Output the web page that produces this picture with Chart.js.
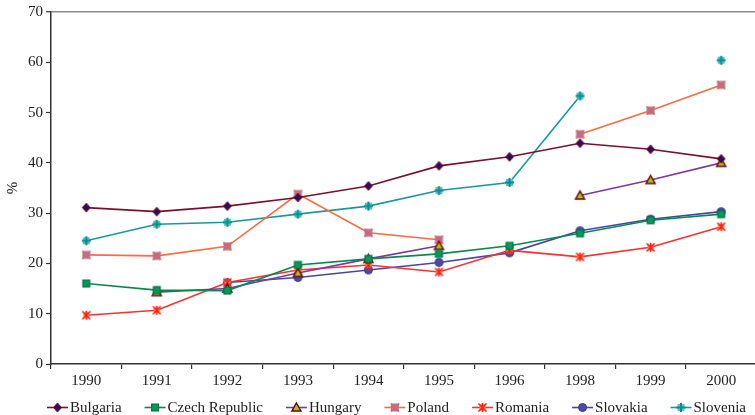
<!DOCTYPE html>
<html>
<head>
<meta charset="utf-8">
<script src="https://cdn.jsdelivr.net/npm/chart.js@4/dist/chart.umd.min.js"></script>
<style>
  html, body { margin: 0; padding: 0; background: #fff; overflow: hidden; }
  #wrap { position: absolute; left: 0; top: 0; width: 762px; height: 415px; }
</style>
</head>
<body>
<div id="wrap"><canvas id="chart"></canvas></div>
<script>
// Categories (survey years) and the share, in %, for each country
const years = ['1990', '1991', '1992', '1993', '1994', '1995', '1996', '1998', '1999', '2000'];

const bulgaria = [31.1, 30.3, 31.4, 33.1, 35.4, 39.4, 41.2, 43.9, 42.7, 40.8];
const czechRepublic = [16.0, 14.7, 14.6, 19.7, 20.9, 21.9, 23.5, 26.0, 28.6, 29.8];
const hungary = [null, 14.3, 15.0, 18.1, 20.9, 23.5, null, 33.5, 36.6, 40.0];
const poland = [21.7, 21.5, 23.4, 33.8, 26.1, 24.7, null, 45.7, 50.4, 55.5];
const romania = [9.7, 10.7, 16.2, 18.7, 19.7, 18.3, 22.6, 21.3, 23.2, 27.3];
const slovakia = [null, null, 16.2, 17.2, 18.7, 20.2, 22.1, 26.5, 28.8, 30.3];
const slovenia = [24.5, 27.8, 28.2, 29.8, 31.4, 34.5, 36.1, 53.3, null, 60.4];

const seriesNames = ['Bulgaria', 'Czech Republic', 'Hungary', 'Poland', 'Romania', 'Slovakia', 'Slovenia'];

// Value axis range
const yMin = 0;
const yMax = 70;
const yStep = 10;

const FONT = '"Liberation Serif", "Times New Roman", serif';

// ---- marker shapes -------------------------------------------------------
const markerDrawers = {
  diamond(ctx, x, y) {
    ctx.beginPath();
    ctx.moveTo(x, y - 4.5); ctx.lineTo(x + 4, y); ctx.lineTo(x, y + 4.5); ctx.lineTo(x - 4, y);
    ctx.closePath();
    ctx.fillStyle = '#2e0e50'; ctx.fill();
    ctx.strokeStyle = '#7a0a2e'; ctx.lineWidth = 1; ctx.stroke();
  },
  square(ctx, x, y) {
    ctx.fillStyle = '#009a5a'; ctx.fillRect(x - 3.5, y - 3.5, 7, 7);
    ctx.strokeStyle = '#006b3c'; ctx.lineWidth = 1; ctx.strokeRect(x - 3.5, y - 3.5, 7, 7);
  },
  triangle(ctx, x, y) {
    ctx.beginPath();
    ctx.moveTo(x, y - 4.5); ctx.lineTo(x + 4.5, y + 3.5); ctx.lineTo(x - 4.5, y + 3.5);
    ctx.closePath();
    ctx.fillStyle = '#9dc828'; ctx.fill();
    ctx.strokeStyle = '#7a0000'; ctx.lineWidth = 1.5; ctx.stroke();
  },
  xsquare(ctx, x, y) {
    ctx.fillStyle = '#8f80c4'; ctx.fillRect(x - 4, y - 4, 8, 8);
    ctx.strokeStyle = '#ff5a36'; ctx.lineWidth = 1.6;
    ctx.beginPath();
    ctx.moveTo(x - 4, y - 4); ctx.lineTo(x + 4, y + 4);
    ctx.moveTo(x + 4, y - 4); ctx.lineTo(x - 4, y + 4);
    ctx.stroke();
  },
  asterisk(ctx, x, y) {
    ctx.fillStyle = '#ff8a2a'; ctx.fillRect(x - 3, y - 3, 6, 6);
    ctx.strokeStyle = '#ff1e1e'; ctx.lineWidth = 1.5;
    ctx.beginPath();
    ctx.moveTo(x - 4, y - 4); ctx.lineTo(x + 4, y + 4);
    ctx.moveTo(x + 4, y - 4); ctx.lineTo(x - 4, y + 4);
    ctx.moveTo(x, y - 4.5); ctx.lineTo(x, y + 4.5);
    ctx.stroke();
  },
  circle(ctx, x, y) {
    ctx.beginPath(); ctx.arc(x, y, 4, 0, Math.PI * 2);
    ctx.fillStyle = '#4a4aa8'; ctx.fill();
    ctx.strokeStyle = '#383892'; ctx.lineWidth = 1; ctx.stroke();
  },
  plus(ctx, x, y) {
    ctx.fillStyle = '#52c6c6'; ctx.fillRect(x - 3.5, y - 3.5, 7, 7);
    ctx.strokeStyle = '#0d8a8a'; ctx.lineWidth = 2;
    ctx.beginPath();
    ctx.moveTo(x - 4.5, y); ctx.lineTo(x + 4.5, y);
    ctx.moveTo(x, y - 4.5); ctx.lineTo(x, y + 4.5);
    ctx.stroke();
  }
};

function markerImage(kind) {
  const c = document.createElement('canvas');
  c.width = 13; c.height = 13;
  markerDrawers[kind](c.getContext('2d'), 6.5, 6.5);
  return c;
}

const seriesStyles = [
  { color: '#7a0f2e', marker: 'diamond' },
  { color: '#0a8a4a', marker: 'square' },
  { color: '#7a3aa0', marker: 'triangle' },
  { color: '#ff6a40', marker: 'xsquare' },
  { color: '#ff3030', marker: 'asterisk' },
  { color: '#4646a6', marker: 'circle' },
  { color: '#189a9a', marker: 'plus' }
];

const seriesData = [bulgaria, czechRepublic, hungary, poland, romania, slovakia, slovenia];

const datasets = seriesNames.map((name, i) => ({
  label: name,
  data: seriesData[i],
  borderColor: seriesStyles[i].color,
  backgroundColor: seriesStyles[i].color,
  borderWidth: 1.6,
  tension: 0,
  spanGaps: false,
  pointStyle: markerImage(seriesStyles[i].marker),
  pointRadius: 4,
  pointHoverRadius: 4,
  markerKind: seriesStyles[i].marker
}));

// Legend row along the bottom: short line with the marker, then the name
const seriesLegend = {
  id: 'seriesLegend',
  afterDraw(chart, args, opts) {
    const ctx = chart.ctx;
    ctx.save();
    ctx.font = opts.fontSize + 'px ' + FONT;
    ctx.textBaseline = 'middle';
    ctx.textAlign = 'left';
    const lineLen = 21, textGap = 2;
    const items = chart.data.datasets.map(ds => ({ ds, w: ctx.measureText(ds.label).width }));
    const used = items.reduce((a, it) => a + lineLen + textGap + it.w, 0);
    const gap = (opts.right - opts.left - used) / (items.length - 1);
    let x = opts.left;
    const y = opts.y;
    items.forEach(it => {
      ctx.strokeStyle = it.ds.borderColor;
      ctx.lineWidth = 1.6;
      ctx.beginPath();
      ctx.moveTo(x, y); ctx.lineTo(x + lineLen, y);
      ctx.stroke();
      markerDrawers[it.ds.markerKind](ctx, x + lineLen / 2, y);
      ctx.fillStyle = '#222';
      ctx.fillText(it.ds.label, x + lineLen + textGap, y + 0.5);
      x += lineLen + textGap + it.w + gap;
    });
    ctx.restore();
  }
};

new Chart(document.getElementById('chart'), {
  type: 'line',
  data: { labels: years, datasets },
  plugins: [seriesLegend],
  options: {
    responsive: true,
    maintainAspectRatio: false,
    animation: false,
    devicePixelRatio: 1,
    layout: { padding: { left: 0, right: 3, top: 12, bottom: 21 } },
    plugins: {
      legend: { display: false },
      tooltip: { enabled: false },
      seriesLegend: { left: 47, right: 746, y: 407.5, fontSize: 15 }
    },
    scales: {
      x: {
        type: 'category',
        offset: true,
        grid: {
          display: true,
          offset: true,
          drawOnChartArea: false,
          drawTicks: true,
          tickLength: 5,
          color: '#333',
          lineWidth: 1.2
        },
        border: { display: true, color: '#333', width: 1.5 },
        ticks: {
          color: '#222',
          font: { family: FONT, size: 15 },
          padding: 3,
          maxRotation: 0,
          autoSkip: false
        },
        afterFit(scale) { scale.height = 30; }
      },
      y: {
        min: yMin,
        max: yMax,
        grid: {
          display: true,
          drawOnChartArea: true,
          drawTicks: true,
          tickLength: 5,
          color: ctx => (ctx.tick && ctx.tick.value === yMax) ? '#8a8a8a' : 'rgba(0,0,0,0)',
          lineWidth: ctx => (ctx.tick && ctx.tick.value === yMax) ? 1.5 : 1,
          tickColor: '#333',
          tickWidth: 1.2
        },
        border: { display: true, color: '#333', width: 1.5 },
        ticks: {
          stepSize: yStep,
          color: '#222',
          font: { family: FONT, size: 15 },
          padding: 3
        },
        title: {
          display: true,
          text: '%',
          color: '#222',
          font: { family: FONT, size: 15 },
          padding: { top: 4, bottom: 0 }
        },
        afterFit(scale) { scale.width = 51; }
      }
    }
  }
});
</script>
</body>
</html>
